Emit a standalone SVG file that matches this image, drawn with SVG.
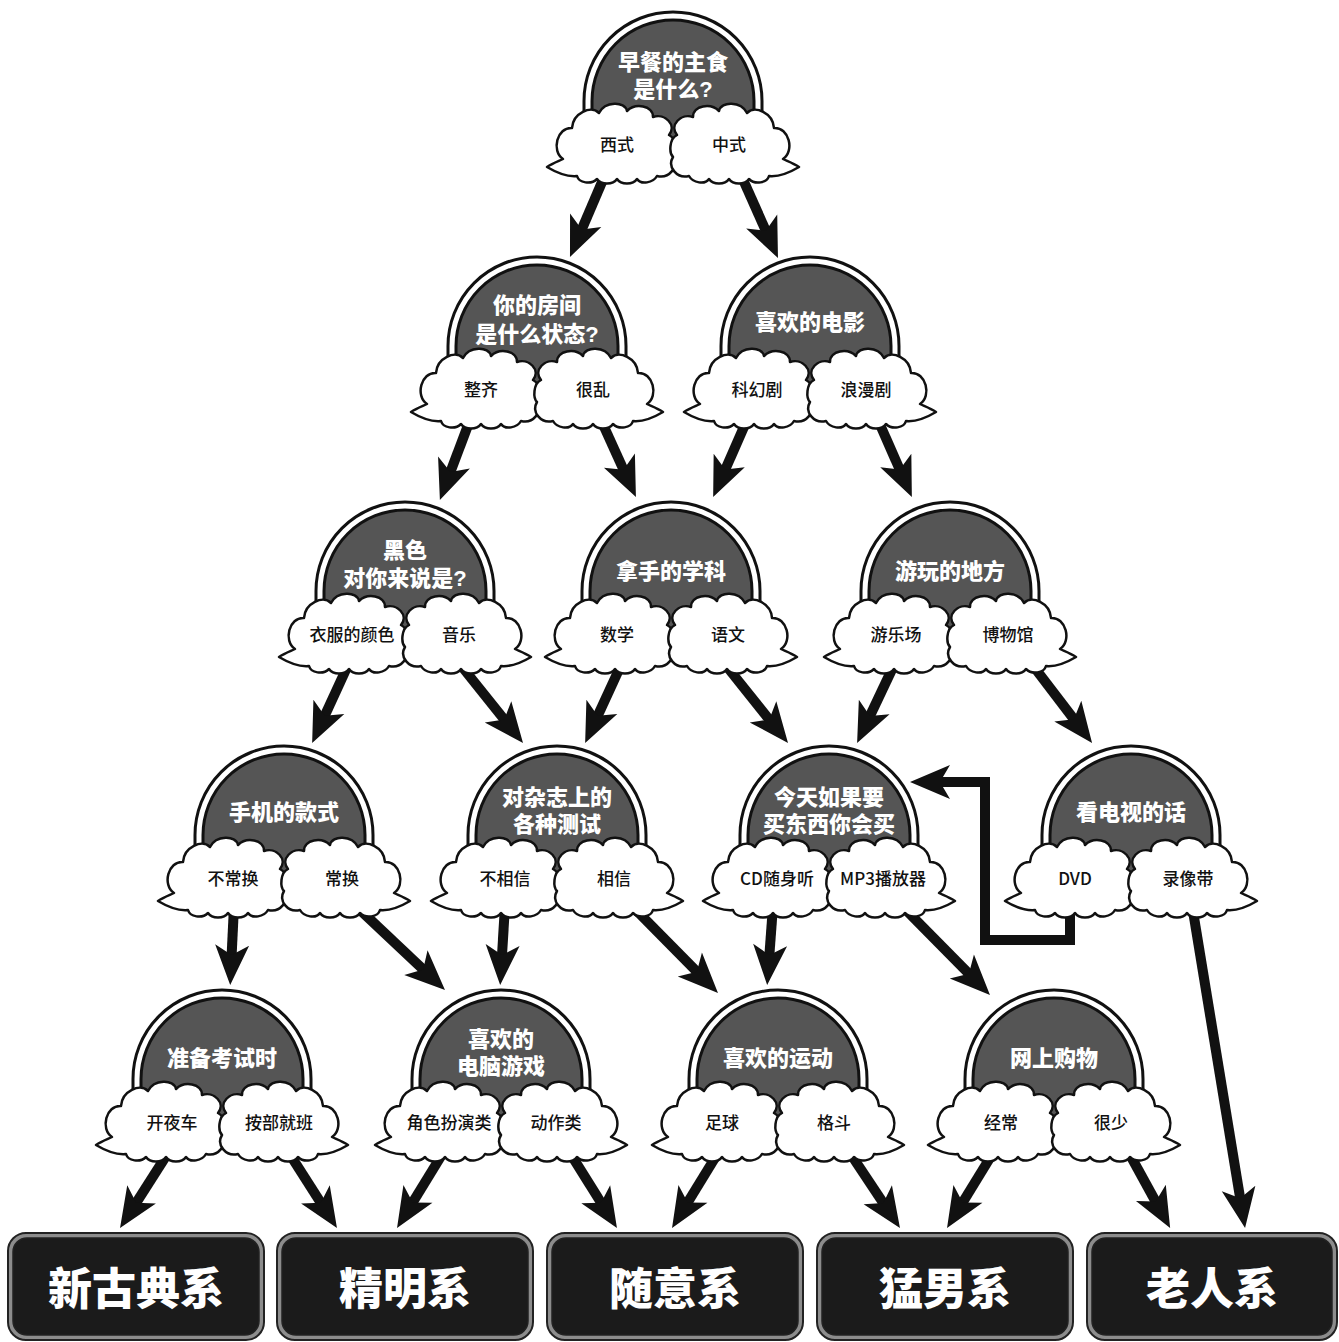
<svg xmlns="http://www.w3.org/2000/svg" xmlns:xlink="http://www.w3.org/1999/xlink" width="1339" height="1342" viewBox="0 0 1339 1342">
<style>
.q{font-family:"Liberation Sans","Noto Sans CJK SC",sans-serif;font-weight:900;font-size:22px;fill:#fff;text-anchor:middle}
.a{font-family:"Noto Sans CJK SC","Noto Sans",sans-serif;font-weight:500;font-size:17px;fill:#111;text-anchor:middle}
.r{font-family:"Noto Sans CJK SC","Noto Sans",sans-serif;font-weight:900;font-size:44px;fill:#fff;text-anchor:middle}
.c{stroke:#111;stroke-width:10;fill:none;stroke-linejoin:miter}
.cl{fill:#fff;stroke:#111;stroke-width:2.5;stroke-linejoin:round}
.bo{fill:#8c8c8c;stroke:#222;stroke-width:2}
.bi{fill:#1b1b1b;stroke:#222;stroke-width:1.5}
</style>
<defs>
<marker id="ah" markerUnits="userSpaceOnUse" viewBox="-20 -20 50 40" refX="0" refY="0" markerWidth="50" markerHeight="40" orient="auto">
<path d="M25,0 L-15,-17 L-5,0 L-15,17 Z" fill="#111"/>
</marker>
<g id="dome">
<path d="M-89,49 V0 A89,89 0 0 1 89,0 V49 Z" fill="#fff"/>
<path d="M-89,49 V0 A89,89 0 0 1 89,0 V49" fill="none" stroke="#111" stroke-width="3"/>
<path d="M-81,49 V0 A81,81 0 0 1 81,0 V49 Z" fill="#555"/>
<path d="M-81,49 V0 A81,81 0 0 1 81,0 V49" fill="none" stroke="#111" stroke-width="3"/>
</g>
<path id="cloud" class="cl" d="M-70,22 C-64,18 -58,16 -54,14 C-66,6 -60,-18 -45,-17 C-44,-32 -26,-40 -18,-32 C-12,-44 8,-44 10,-34 C18,-42 36,-40 36,-28 C48,-32 60,-20 52,-10 C60,-6 60,8 56,12 C62,22 52,34 40,31 C36,38 24,40 20,34 C16,40 4,40 0,34 C-4,40 -16,40 -20,34 C-26,40 -38,38 -40,31 C-50,32 -60,28 -70,22 Z"/>
</defs>
<rect width="1339" height="1342" fill="#fff"/>
<g id="connectors">
<line class="c" marker-end="url(#ah)" x1="605" y1="175" x2="579.8" y2="234"/>
<line class="c" marker-end="url(#ah)" x1="741" y1="175" x2="767.8" y2="235.2"/>
<line class="c" marker-end="url(#ah)" x1="470" y1="420" x2="448.7" y2="476.6"/>
<line class="c" marker-end="url(#ah)" x1="601" y1="420" x2="625.6" y2="474.3"/>
<line class="c" marker-end="url(#ah)" x1="747" y1="420" x2="723.2" y2="474.2"/>
<line class="c" marker-end="url(#ah)" x1="878" y1="420" x2="901.8" y2="474.2"/>
<line class="c" marker-end="url(#ah)" x1="349" y1="663" x2="322.6" y2="720.4"/>
<line class="c" marker-end="url(#ah)" x1="459" y1="663" x2="507.4" y2="723.5"/>
<line class="c" marker-end="url(#ah)" x1="622" y1="663" x2="595.6" y2="720.4"/>
<line class="c" marker-end="url(#ah)" x1="724" y1="663" x2="772.4" y2="723.5"/>
<line class="c" marker-end="url(#ah)" x1="895" y1="663" x2="867.8" y2="720.5"/>
<line class="c" marker-end="url(#ah)" x1="1031" y1="663" x2="1076.9" y2="723.1"/>
<line class="c" marker-end="url(#ah)" x1="234" y1="906" x2="231.4" y2="960"/>
<line class="c" marker-end="url(#ah)" x1="358" y1="908" x2="426.8" y2="972.9"/>
<line class="c" marker-end="url(#ah)" x1="505" y1="906" x2="501.7" y2="960"/>
<line class="c" marker-end="url(#ah)" x1="634" y1="908" x2="700.4" y2="975.2"/>
<line class="c" marker-end="url(#ah)" x1="773" y1="906" x2="769" y2="960"/>
<line class="c" marker-end="url(#ah)" x1="904" y1="908" x2="972.4" y2="977.2"/>
<path class="c" marker-end="url(#ah)" d="M1070,905 V940 H985 V782 H935"/>
<line class="c" marker-end="url(#ah)" x1="1192" y1="905" x2="1241" y2="1203.3"/>
<line class="c" marker-end="url(#ah)" x1="168" y1="1153" x2="133.5" y2="1207"/>
<line class="c" marker-end="url(#ah)" x1="289" y1="1153" x2="323.5" y2="1207"/>
<line class="c" marker-end="url(#ah)" x1="443" y1="1153" x2="410.1" y2="1206.7"/>
<line class="c" marker-end="url(#ah)" x1="570" y1="1153" x2="603.7" y2="1206.9"/>
<line class="c" marker-end="url(#ah)" x1="718" y1="1153" x2="685.1" y2="1206.7"/>
<line class="c" marker-end="url(#ah)" x1="850" y1="1153" x2="886.1" y2="1207.2"/>
<line class="c" marker-end="url(#ah)" x1="993" y1="1153" x2="960.1" y2="1206.7"/>
<line class="c" marker-end="url(#ah)" x1="1129" y1="1153" x2="1158.1" y2="1206"/>
</g>
<g id="n1">
<use xlink:href="#dome" transform="translate(673,101)"/>
<use xlink:href="#cloud" transform="translate(617,145)"/>
<use xlink:href="#cloud" transform="translate(729,145) scale(-1,1)"/>
<text class="q" x="673" y="70">早餐的主食<tspan x="673" dy="27">是什么?</tspan></text>
<text class="a" x="617" y="151">西式</text><text class="a" x="729" y="151">中式</text>
</g>
<g id="n2">
<use xlink:href="#dome" transform="translate(537,346)"/>
<use xlink:href="#cloud" transform="translate(481,390)"/>
<use xlink:href="#cloud" transform="translate(593,390) scale(-1,1)"/>
<text class="q" x="537" y="313">你的房间<tspan x="537" dy="29">是什么状态?</tspan></text>
<text class="a" x="481" y="396">整齐</text><text class="a" x="593" y="396">很乱</text>
</g>
<g id="n3">
<use xlink:href="#dome" transform="translate(810,346)"/>
<use xlink:href="#cloud" transform="translate(754,390)"/>
<use xlink:href="#cloud" transform="translate(866,390) scale(-1,1)"/>
<text class="q" x="810" y="330">喜欢的电影</text>
<text class="a" x="757" y="396">科幻剧</text><text class="a" x="866" y="396">浪漫剧</text>
</g>
<g id="n4">
<use xlink:href="#dome" transform="translate(405,591)"/>
<use xlink:href="#cloud" transform="translate(349,635)"/>
<use xlink:href="#cloud" transform="translate(461,635) scale(-1,1)"/>
<text class="q" x="405" y="558">黑色<tspan x="405" dy="28">对你来说是?</tspan></text>
<text class="a" x="352" y="641">衣服的颜色</text><text class="a" x="459" y="641">音乐</text>
</g>
<g id="n5">
<use xlink:href="#dome" transform="translate(671,591)"/>
<use xlink:href="#cloud" transform="translate(615,635)"/>
<use xlink:href="#cloud" transform="translate(727,635) scale(-1,1)"/>
<text class="q" x="671" y="579">拿手的学科</text>
<text class="a" x="617" y="641">数学</text><text class="a" x="728" y="641">语文</text>
</g>
<g id="n6">
<use xlink:href="#dome" transform="translate(950,591)"/>
<use xlink:href="#cloud" transform="translate(894,635)"/>
<use xlink:href="#cloud" transform="translate(1006,635) scale(-1,1)"/>
<text class="q" x="950" y="579">游玩的地方</text>
<text class="a" x="896" y="641">游乐场</text><text class="a" x="1008" y="641">博物馆</text>
</g>
<g id="n7">
<use xlink:href="#dome" transform="translate(284,835)"/>
<use xlink:href="#cloud" transform="translate(228,879)"/>
<use xlink:href="#cloud" transform="translate(340,879) scale(-1,1)"/>
<text class="q" x="284" y="820">手机的款式</text>
<text class="a" x="233" y="885">不常换</text><text class="a" x="342" y="885">常换</text>
</g>
<g id="n8">
<use xlink:href="#dome" transform="translate(557,835)"/>
<use xlink:href="#cloud" transform="translate(501,879)"/>
<use xlink:href="#cloud" transform="translate(613,879) scale(-1,1)"/>
<text class="q" x="557" y="805">对杂志上的<tspan x="557" dy="27">各种测试</tspan></text>
<text class="a" x="505" y="885">不相信</text><text class="a" x="614" y="885">相信</text>
</g>
<g id="n9">
<use xlink:href="#dome" transform="translate(829,835)"/>
<use xlink:href="#cloud" transform="translate(773,879)"/>
<use xlink:href="#cloud" transform="translate(885,879) scale(-1,1)"/>
<text class="q" x="829" y="805">今天如果要<tspan x="829" dy="27">买东西你会买</tspan></text>
<text class="a" x="777" y="885">CD随身听</text><text class="a" x="883" y="885">MP3播放器</text>
</g>
<g id="n10">
<use xlink:href="#dome" transform="translate(1131,835)"/>
<use xlink:href="#cloud" transform="translate(1075,879)"/>
<use xlink:href="#cloud" transform="translate(1187,879) scale(-1,1)"/>
<text class="q" x="1131" y="820">看电视的话</text>
<text class="a" x="1075" y="885">DVD</text><text class="a" x="1188" y="885">录像带</text>
</g>
<g id="n11">
<use xlink:href="#dome" transform="translate(222,1079)"/>
<use xlink:href="#cloud" transform="translate(166,1123)"/>
<use xlink:href="#cloud" transform="translate(278,1123) scale(-1,1)"/>
<text class="q" x="222" y="1066">准备考试时</text>
<text class="a" x="172" y="1129">开夜车</text><text class="a" x="279" y="1129">按部就班</text>
</g>
<g id="n12">
<use xlink:href="#dome" transform="translate(501,1079)"/>
<use xlink:href="#cloud" transform="translate(445,1123)"/>
<use xlink:href="#cloud" transform="translate(557,1123) scale(-1,1)"/>
<text class="q" x="501" y="1047">喜欢的<tspan x="501" dy="27">电脑游戏</tspan></text>
<text class="a" x="449" y="1129">角色扮演类</text><text class="a" x="556" y="1129">动作类</text>
</g>
<g id="n13">
<use xlink:href="#dome" transform="translate(778,1079)"/>
<use xlink:href="#cloud" transform="translate(722,1123)"/>
<use xlink:href="#cloud" transform="translate(834,1123) scale(-1,1)"/>
<text class="q" x="778" y="1066">喜欢的运动</text>
<text class="a" x="722" y="1129">足球</text><text class="a" x="834" y="1129">格斗</text>
</g>
<g id="n14">
<use xlink:href="#dome" transform="translate(1054,1079)"/>
<use xlink:href="#cloud" transform="translate(998,1123)"/>
<use xlink:href="#cloud" transform="translate(1110,1123) scale(-1,1)"/>
<text class="q" x="1054" y="1066">网上购物</text>
<text class="a" x="1001" y="1129">经常</text><text class="a" x="1111" y="1129">很少</text>
</g>
<g id="r1"><rect class="bo" x="8" y="1233" width="256" height="107" rx="18"/><rect class="bi" x="13" y="1238" width="246" height="97" rx="14"/><text class="r" x="136" y="1305">新古典系</text></g>
<g id="r2"><rect class="bo" x="277" y="1233" width="256" height="107" rx="18"/><rect class="bi" x="282" y="1238" width="246" height="97" rx="14"/><text class="r" x="405" y="1305">精明系</text></g>
<g id="r3"><rect class="bo" x="547" y="1233" width="256" height="107" rx="18"/><rect class="bi" x="552" y="1238" width="246" height="97" rx="14"/><text class="r" x="675" y="1305">随意系</text></g>
<g id="r4"><rect class="bo" x="817" y="1233" width="256" height="107" rx="18"/><rect class="bi" x="822" y="1238" width="246" height="97" rx="14"/><text class="r" x="945" y="1305">猛男系</text></g>
<g id="r5"><rect class="bo" x="1087" y="1233" width="250" height="107" rx="18"/><rect class="bi" x="1092" y="1238" width="240" height="97" rx="14"/><text class="r" x="1212" y="1305">老人系</text></g>
</svg>
